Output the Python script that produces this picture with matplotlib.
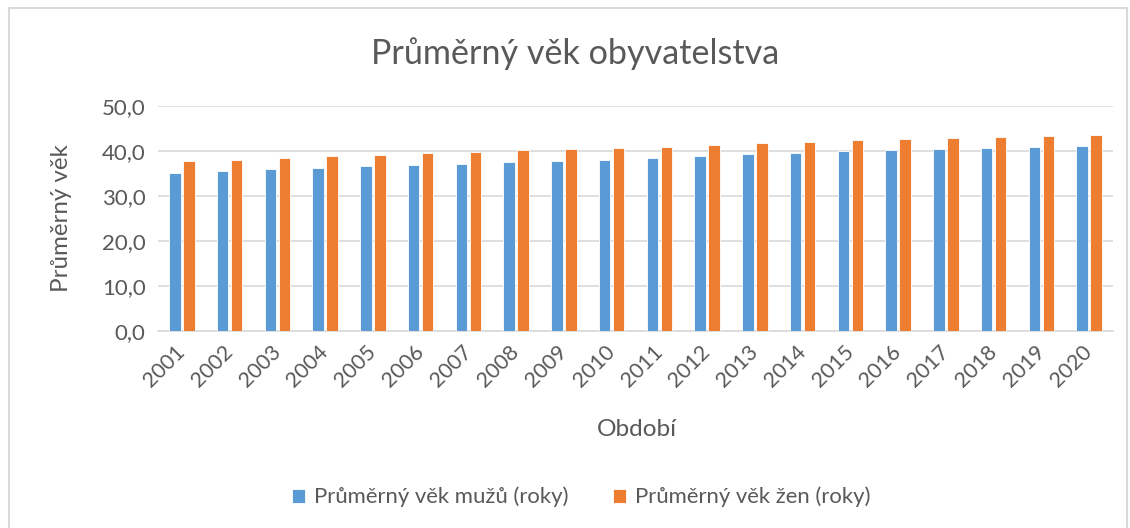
import matplotlib
matplotlib.use("Agg")
import matplotlib.pyplot as plt
import numpy as np
from matplotlib.patches import Rectangle

years = [str(y) for y in range(2001, 2021)]
men = [35.2, 35.55, 35.9, 36.15, 36.6, 36.9, 37.2, 37.5, 37.8, 38.0,
       38.5, 38.9, 39.25, 39.6, 39.9, 40.2, 40.45, 40.65, 40.9, 41.05]
women = [37.7, 38.0, 38.4, 38.8, 39.2, 39.55, 39.85, 40.15, 40.45, 40.7,
         40.95, 41.4, 41.7, 42.1, 42.45, 42.75, 42.95, 43.2, 43.3, 43.55]
series_labels = ["Průměrný věk mužů (roky)", "Průměrný věk žen (roky)"]
yticks = [0, 10, 20, 30, 40, 50]

plt.rcParams['font.family'] = ['Lato', 'DejaVu Sans']
TXT = '#595959'
BLUE = '#5B9BD5'
ORANGE = '#ED7D31'

fig = plt.figure(figsize=(11.3, 5.28), dpi=100)
# outer chart frame
fig.patches.append(Rectangle((9/1130, -0.01), (1127-9)/1130, 1 - 8/528 + 0.01,
                             transform=fig.transFigure, fill=False,
                             edgecolor='#D9D9D9', linewidth=1.5))

ax = fig.add_axes([158/1130, 1-331/528, (1113-158)/1130, (331-106)/528])
x = np.arange(len(years))
w = 0.24
b1 = ax.bar(x - 0.145, men, w, color=BLUE, edgecolor='white', linewidth=0.6, label=series_labels[0], zorder=3)
b2 = ax.bar(x + 0.145, women, w, color=ORANGE, edgecolor='white', linewidth=0.6, label=series_labels[1], zorder=3)

ax.set_xlim(-0.5, len(years) - 0.5)
ax.set_ylim(0, 50)
ax.set_yticks(yticks)
ax.set_yticklabels([f"{v:.1f}".replace('.', ',') for v in yticks], color=TXT, fontsize=16)
ax.set_xticks(x)
ax.set_xticklabels(years, rotation=45, ha='right', va='center', rotation_mode='anchor', color=TXT, fontsize=15.5)
ax.tick_params(axis='y', length=0, pad=9)
ax.tick_params(axis='x', length=0, pad=13)
ax.grid(axis='y', color='#D9D9D9', linewidth=1.2, zorder=0)
for s in ['top', 'right', 'left']:
    ax.spines[s].set_visible(False)
ax.spines['bottom'].set_color('#D9D9D9')
ax.spines['bottom'].set_linewidth(1.2)

fig.text(575/1130, 1-64/528, "Průměrný věk obyvatelstva", ha='center', va='baseline', color=TXT, fontsize=24.6)
fig.text(62/1130, 1-218/528, "Průměrný věk", rotation=90, ha='center', va='center', color=TXT, fontsize=17.4)
fig.text(637/1130, 1-430/528, "Období", ha='center', va='center', color=TXT, fontsize=17.6)

leg = fig.legend(handles=[b1, b2], labels=series_labels, loc='center',
                 bbox_to_anchor=(581/1130, 1-497/528), ncol=2, frameon=False,
                 fontsize=15.9, handlelength=0.6, handleheight=0.6, handletextpad=0.4,
                 columnspacing=2.0)
for t in leg.get_texts():
    t.set_color(TXT)

fig.savefig("out.png", dpi=100)
